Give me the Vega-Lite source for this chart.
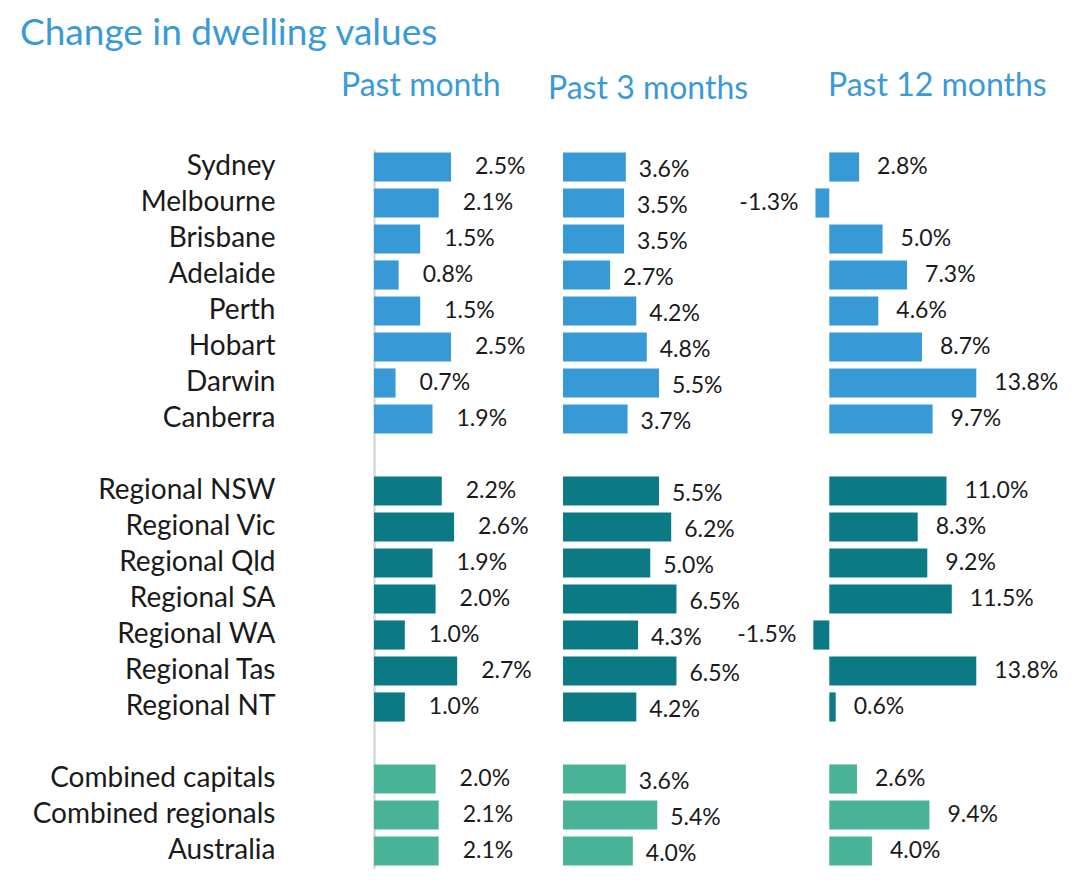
{
  "$schema": "https://vega.github.io/schema/vega-lite/v6.json",
  "background": "white",
  "padding": {"left": 20, "top": 15, "right": 0, "bottom": 0},
  "title": {"text": "Change in dwelling values", "anchor": "start", "frame": "group", "dx": -354, "fontSize": 37, "font": "Lato", "fontWeight": "normal", "color": "#3a9ad9", "offset": 17},
  "config": {"view": {"stroke": null}, "font": "Lato", "concat": {"spacing": 0}},
  "bounds": "flush",
  "spacing": 0,
  "data": {"values": [
    {"r": "Sydney", "g": "cap", "p": "m1", "v": 2.5}, {"r": "Sydney", "g": "cap", "p": "m3", "v": 3.6}, {"r": "Sydney", "g": "cap", "p": "m12", "v": 2.8},
    {"r": "Melbourne", "g": "cap", "p": "m1", "v": 2.1}, {"r": "Melbourne", "g": "cap", "p": "m3", "v": 3.5}, {"r": "Melbourne", "g": "cap", "p": "m12", "v": -1.3},
    {"r": "Brisbane", "g": "cap", "p": "m1", "v": 1.5}, {"r": "Brisbane", "g": "cap", "p": "m3", "v": 3.5}, {"r": "Brisbane", "g": "cap", "p": "m12", "v": 5.0},
    {"r": "Adelaide", "g": "cap", "p": "m1", "v": 0.8}, {"r": "Adelaide", "g": "cap", "p": "m3", "v": 2.7}, {"r": "Adelaide", "g": "cap", "p": "m12", "v": 7.3},
    {"r": "Perth", "g": "cap", "p": "m1", "v": 1.5}, {"r": "Perth", "g": "cap", "p": "m3", "v": 4.2}, {"r": "Perth", "g": "cap", "p": "m12", "v": 4.6},
    {"r": "Hobart", "g": "cap", "p": "m1", "v": 2.5}, {"r": "Hobart", "g": "cap", "p": "m3", "v": 4.8}, {"r": "Hobart", "g": "cap", "p": "m12", "v": 8.7},
    {"r": "Darwin", "g": "cap", "p": "m1", "v": 0.7}, {"r": "Darwin", "g": "cap", "p": "m3", "v": 5.5}, {"r": "Darwin", "g": "cap", "p": "m12", "v": 13.8},
    {"r": "Canberra", "g": "cap", "p": "m1", "v": 1.9}, {"r": "Canberra", "g": "cap", "p": "m3", "v": 3.7}, {"r": "Canberra", "g": "cap", "p": "m12", "v": 9.7},
    {"r": "Regional NSW", "g": "reg", "p": "m1", "v": 2.2}, {"r": "Regional NSW", "g": "reg", "p": "m3", "v": 5.5}, {"r": "Regional NSW", "g": "reg", "p": "m12", "v": 11.0},
    {"r": "Regional Vic", "g": "reg", "p": "m1", "v": 2.6}, {"r": "Regional Vic", "g": "reg", "p": "m3", "v": 6.2}, {"r": "Regional Vic", "g": "reg", "p": "m12", "v": 8.3},
    {"r": "Regional Qld", "g": "reg", "p": "m1", "v": 1.9}, {"r": "Regional Qld", "g": "reg", "p": "m3", "v": 5.0}, {"r": "Regional Qld", "g": "reg", "p": "m12", "v": 9.2},
    {"r": "Regional SA", "g": "reg", "p": "m1", "v": 2.0}, {"r": "Regional SA", "g": "reg", "p": "m3", "v": 6.5}, {"r": "Regional SA", "g": "reg", "p": "m12", "v": 11.5},
    {"r": "Regional WA", "g": "reg", "p": "m1", "v": 1.0}, {"r": "Regional WA", "g": "reg", "p": "m3", "v": 4.3}, {"r": "Regional WA", "g": "reg", "p": "m12", "v": -1.5},
    {"r": "Regional Tas", "g": "reg", "p": "m1", "v": 2.7}, {"r": "Regional Tas", "g": "reg", "p": "m3", "v": 6.5}, {"r": "Regional Tas", "g": "reg", "p": "m12", "v": 13.8},
    {"r": "Regional NT", "g": "reg", "p": "m1", "v": 1.0}, {"r": "Regional NT", "g": "reg", "p": "m3", "v": 4.2}, {"r": "Regional NT", "g": "reg", "p": "m12", "v": 0.6},
    {"r": "Combined capitals", "g": "comb", "p": "m1", "v": 2.0}, {"r": "Combined capitals", "g": "comb", "p": "m3", "v": 3.6}, {"r": "Combined capitals", "g": "comb", "p": "m12", "v": 2.6},
    {"r": "Combined regionals", "g": "comb", "p": "m1", "v": 2.1}, {"r": "Combined regionals", "g": "comb", "p": "m3", "v": 5.4}, {"r": "Combined regionals", "g": "comb", "p": "m12", "v": 9.4},
    {"r": "Australia", "g": "comb", "p": "m1", "v": 2.1}, {"r": "Australia", "g": "comb", "p": "m3", "v": 4.0}, {"r": "Australia", "g": "comb", "p": "m12", "v": 4.0}
  ]},
  "transform": [{"calculate": "replace(format(datum.v, '.1f'), '\u2212', '-') + '%'", "as": "lbl"}],
  "resolve": {"scale": {"x": "independent"}},
  "hconcat": [
    {
      "width": 189, "height": 720,
      "title": {"text": "Past month", "anchor": "start", "frame": "group", "dx": -33, "fontSize": 32, "fontWeight": "normal", "color": "#3a9ad9", "baseline": "alphabetic", "offset": 21},
      "transform": [{"filter": "datum.p == 'm1'"}],
      "encoding": {
        "y": {"field": "r", "type": "nominal", "title": null,
          "scale": {"domain": ["Sydney", "Melbourne", "Brisbane", "Adelaide", "Perth", "Hobart", "Darwin", "Canberra", "_gap1", "Regional NSW", "Regional Vic", "Regional Qld", "Regional SA", "Regional WA", "Regional Tas", "Regional NT", "_gap2", "Combined capitals", "Combined regionals", "Australia"], "paddingInner": 0.19, "paddingOuter": 0.095},
          "axis": {"labelExpr": "indexof(datum.value, '_gap') == 0 ? '' : datum.value", "ticks": false, "domain": true, "domainColor": "#d9d9d9", "domainWidth": 2.5, "labelPadding": 99, "labelFontSize": 28, "labelLimit": 0, "labelColor": "#1a1a1a", "labelFont": "Lato", "grid": false}}
      },
      "layer": [
        {"mark": {"type": "bar"},
         "encoding": {
           "x": {"field": "v", "type": "quantitative", "scale": {"domain": [0, 6.136], "nice": false}, "axis": null},
           "color": {"field": "g", "type": "nominal", "scale": {"domain": ["cap", "reg", "comb"], "range": ["#3799d6", "#0b7a85", "#48b396"]}, "legend": null}}},
        {"mark": {"type": "text", "align": "left", "baseline": "middle", "dx": 24, "fontSize": 23, "color": "#1a1a1a"},
         "encoding": {"x": {"field": "v", "type": "quantitative"}, "text": {"field": "lbl"}}}
      ]
    },
    {
      "width": 244.7, "height": 720,
      "title": {"text": "Past 3 months", "anchor": "start", "frame": "group", "dx": -15, "fontSize": 32, "fontWeight": "normal", "color": "#3a9ad9", "baseline": "alphabetic", "offset": 18},
      "transform": [{"filter": "datum.p == 'm3'"}],
      "encoding": {
        "y": {"field": "r", "type": "nominal", "title": null,
          "scale": {"domain": ["Sydney", "Melbourne", "Brisbane", "Adelaide", "Perth", "Hobart", "Darwin", "Canberra", "_gap1", "Regional NSW", "Regional Vic", "Regional Qld", "Regional SA", "Regional WA", "Regional Tas", "Regional NT", "_gap2", "Combined capitals", "Combined regionals", "Australia"], "paddingInner": 0.19, "paddingOuter": 0.095},
          "axis": null}
      },
      "layer": [
        {"mark": {"type": "bar"},
         "encoding": {
           "x": {"field": "v", "type": "quantitative", "scale": {"domain": [0, 14.02], "nice": false}, "axis": null},
           "color": {"field": "g", "type": "nominal", "scale": {"domain": ["cap", "reg", "comb"], "range": ["#3799d6", "#0b7a85", "#48b396"]}, "legend": null}}},
        {"mark": {"type": "text", "align": "left", "baseline": "middle", "dx": 13, "dy": 3, "fontSize": 23, "color": "#1a1a1a"},
         "encoding": {"x": {"field": "v", "type": "quantitative"}, "text": {"field": "lbl"}}}
      ]
    },
    {
      "width": 271.6, "height": 720,
      "title": {"text": "Past 12 months", "anchor": "start", "frame": "group", "dx": 20, "fontSize": 32, "fontWeight": "normal", "color": "#3a9ad9", "baseline": "alphabetic", "offset": 21},
      "transform": [{"filter": "datum.p == 'm12'"}],
      "encoding": {
        "y": {"field": "r", "type": "nominal", "title": null,
          "scale": {"domain": ["Sydney", "Melbourne", "Brisbane", "Adelaide", "Perth", "Hobart", "Darwin", "Canberra", "_gap1", "Regional NSW", "Regional Vic", "Regional Qld", "Regional SA", "Regional WA", "Regional Tas", "Regional NT", "_gap2", "Combined capitals", "Combined regionals", "Australia"], "paddingInner": 0.19, "paddingOuter": 0.095},
          "axis": null}
      },
      "layer": [
        {"mark": {"type": "bar"},
         "encoding": {
           "x": {"field": "v", "type": "quantitative", "scale": {"domain": [-2, 23.5], "nice": false}, "axis": null},
           "color": {"field": "g", "type": "nominal", "scale": {"domain": ["cap", "reg", "comb"], "range": ["#3799d6", "#0b7a85", "#48b396"]}, "legend": null}}},
        {"transform": [{"filter": "datum.v >= 0"}],
         "mark": {"type": "text", "align": "left", "baseline": "middle", "dx": 18, "fontSize": 23, "color": "#1a1a1a"},
         "encoding": {"x": {"field": "v", "type": "quantitative"}, "text": {"field": "lbl"}}},
        {"transform": [{"filter": "datum.v < 0"}],
         "mark": {"type": "text", "align": "right", "baseline": "middle", "dx": -17, "fontSize": 23, "color": "#1a1a1a"},
         "encoding": {"x": {"field": "v", "type": "quantitative"}, "text": {"field": "lbl"}}}
      ]
    }
  ]
}
